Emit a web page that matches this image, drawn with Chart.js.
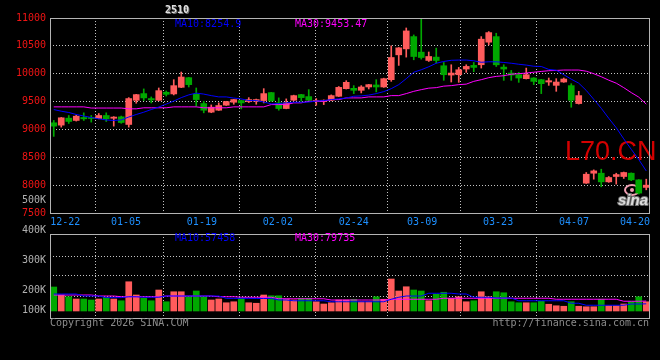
<!DOCTYPE html>
<html>
<head>
<meta charset="utf-8">
<script src="https://cdn.jsdelivr.net/npm/chart.js@4.4.1/dist/chart.umd.min.js"></script>
<style>
  html, body { margin: 0; padding: 0; background: #000; }
  body { width: 660px; height: 360px; position: relative; overflow: hidden; }
  #kChart { position: absolute; left: 0; top: 0; }
  #vChart { position: absolute; left: 0; top: 220px; }
</style>
</head>
<body>
<canvas id="kChart" width="660" height="230"></canvas>
<canvas id="vChart" width="660" height="140"></canvas>
<script>
// --- DATA ---
const dates = [
  '12-18','12-19','12-22','12-23','12-24','12-25','12-26','12-29','12-30','12-31',
  '01-05','01-06','01-07','01-08','01-09','01-12','01-13','01-14','01-15','01-16',
  '01-19','01-20','01-21','01-22','01-23','01-26','01-27','01-28','01-29','01-30',
  '02-02','02-03','02-04','02-05','02-06','02-09','02-10','02-11','02-12','02-13',
  '02-24','02-25','02-26','02-27','03-02','03-03','03-04','03-05','03-06',
  '03-09','03-10','03-11','03-12','03-13','03-16','03-17','03-18','03-19','03-20',
  '03-23','03-24','03-25','03-26','03-27','03-30','03-31','04-01','04-02','04-03',
  '04-07','04-08','04-09','04-10','04-13','04-14','04-15','04-16','04-17','04-20','04-21'
];
const tickIdx = [2, 10, 20, 30, 40, 49, 59, 69, 78];

const opens = [
  9119, 9077, 9202, 9161, 9214, 9207, 9196, 9250, 9200, 9226,
  9089, 9523, 9643, 9554, 9523, 9667, 9637, 9756, 9929, 9631,
  9464, 9310, 9345, 9435, 9488, 9518, 9500, 9506, 9518, 9661,
  9476, 9375, 9524, 9625, 9589, 9500, 9500, 9524, 9595, 9732,
  9738, 9702, 9762, 9798, 9762, 9893, 10339, 10446, 10666, 10387,
  10238, 10298, 10143, 9976, 9982, 10084, 10149, 10161, 10566, 10666,
  10119, 10012, 9982, 9911, 9923, 9893, 9851, 9791, 9851, 9786,
  9464, 8036, 8214, 8214, 8059, 8155, 8155, 8214, 8095, 7959
];
const highs = [
  9161, 9215, 9250, 9255, 9298, 9250, 9286, 9298, 9230, 9240,
  9571, 9630, 9727, 9583, 9744, 9690, 9893, 10030, 9935, 9744,
  9506, 9440, 9476, 9505, 9540, 9525, 9571, 9545, 9732, 9665,
  9566, 9548, 9615, 9630, 9714, 9554, 9530, 9620, 9770, 9875,
  9786, 9786, 9810, 9893, 9920, 10500, 10470, 10821, 10696, 10994,
  10390, 10459, 10202, 10161, 10113, 10161, 10202, 10666, 10756, 10726,
  10161, 10059, 10024, 10101, 9930, 9900, 9923, 9911, 9923, 9821,
  9684, 8227, 8274, 8286, 8155, 8214, 8235, 8220, 8100, 8107
];
const lows = [
  8875, 9041, 9107, 9150, 9161, 9131, 9190, 9143, 9059, 9110,
  9041, 9470, 9518, 9476, 9515, 9600, 9619, 9750, 9762, 9416,
  9298, 9300, 9340, 9430, 9452, 9369, 9482, 9452, 9476, 9505,
  9345, 9370, 9515, 9506, 9515, 9434, 9446, 9515, 9590, 9725,
  9643, 9655, 9726, 9673, 9755, 9863, 10149, 10298, 10250, 10262,
  10220, 10190, 9881, 9851, 9845, 10024, 10036, 10101, 10518, 10130,
  9881, 9881, 9845, 9905, 9804, 9643, 9791, 9684, 9845, 9398,
  9455, 8030, 8107, 7970, 8050, 8018, 8120, 8080, 7840, 7916
];
const closes = [
  9059, 9209, 9143, 9238, 9190, 9196, 9250, 9190, 9222, 9125,
  9554, 9625, 9566, 9530, 9696, 9630, 9786, 9941, 9804, 9536,
  9345, 9399, 9429, 9500, 9536, 9476, 9536, 9536, 9643, 9512,
  9375, 9476, 9607, 9571, 9524, 9518, 9524, 9607, 9755, 9845,
  9702, 9762, 9804, 9762, 9911, 10291, 10464, 10768, 10309, 10291,
  10309, 10238, 9982, 10012, 10071, 10131, 10113, 10620, 10738, 10160,
  10084, 9976, 9923, 9982, 9863, 9821, 9875, 9851, 9905, 9524,
  9607, 8196, 8256, 8059, 8137, 8190, 8227, 8095, 7857, 8000
];
const ma10 = [
  9357, 9327, 9304, 9268, 9241, 9214, 9191, 9170, 9161, 9170,
  9223, 9268, 9309, 9357, 9402, 9455, 9509, 9571, 9620, 9652,
  9634, 9607, 9584, 9584, 9563, 9548, 9518, 9518, 9491, 9459,
  9464, 9477, 9488, 9488, 9491, 9509, 9518, 9536, 9548, 9563,
  9595, 9602, 9616, 9643, 9679, 9732, 9804, 9911, 10027, 10071,
  10125, 10188, 10220, 10241, 10245, 10245, 10232, 10205, 10214, 10214,
  10202, 10188, 10170, 10155, 10134, 10130, 10077, 10063, 9982, 9902,
  9830, 9700, 9540, 9380, 9200, 9030, 8830, 8643, 8460, 8254.9
];
const ma30 = [
  9405, 9405, 9405, 9405, 9405, 9384, 9384, 9384, 9384, 9384,
  9370, 9370, 9388, 9388, 9388, 9388, 9405, 9405, 9405, 9405,
  9388, 9388, 9388, 9388, 9405, 9405, 9405, 9405, 9405, 9446,
  9446, 9446, 9477, 9477, 9505, 9505, 9505, 9536, 9536, 9566,
  9566, 9566, 9584, 9584, 9584, 9607, 9607, 9643, 9684, 9714,
  9741, 9750, 9777, 9786, 9804, 9813, 9863, 9893, 9929, 9952,
  9964, 9991, 10000, 10012, 10027, 10041, 10054, 10059, 10066, 10066,
  10066, 10045, 10000, 9946, 9884, 9830, 9750, 9661, 9580, 9453.47
];
const volumes = [
  192000, 128000, 114000, 96000, 96000, 88000, 96000, 110000, 96000, 82000,
  234000, 128000, 102000, 82000, 168000, 74000, 154000, 154000, 114000, 160000,
  114000, 88000, 96000, 66000, 74000, 102000, 66000, 62000, 128000, 122000,
  122000, 96000, 88000, 102000, 102000, 74000, 56000, 66000, 88000, 88000,
  94000, 74000, 74000, 114000, 94000, 256000, 160000, 194000, 168000, 160000,
  82000, 134000, 150000, 102000, 114000, 74000, 82000, 154000, 114000, 154000,
  146000, 74000, 66000, 66000, 66000, 78000, 54000, 42000, 38000, 74000,
  38000, 34000, 34000, 94000, 42000, 42000, 56000, 74000, 114000, 74000
];
const volMa10 = [
  136000, 136000, 136000, 136000, 120000, 120000, 120000, 107000, 107000, 107000,
  114000, 114000, 110000, 110000, 110000, 120000, 120000, 120000, 120000, 120000,
  120000, 120000, 120000, 101000, 101000, 101000, 101000, 100000, 100000, 100000,
  88000, 88000, 82000, 82000, 82000, 82000, 82000, 74000, 74000, 74000,
  74000, 74000, 74000, 74000, 74000, 94000, 110000, 120000, 120000, 120000,
  142000, 142000, 142000, 142000, 136000, 136000, 110000, 110000, 110000, 104000,
  104000, 104000, 82000, 82000, 82000, 82000, 82000, 82000, 82000, 62000,
  62000, 46000, 46000, 46000, 46000, 46000, 46000, 56000, 56000, 57458
];
const volMa30 = [
  128000, 128000, 128000, 128000, 128000, 128000, 120000, 120000, 120000, 114000,
  114000, 114000, 114000, 114000, 114000, 120000, 120000, 120000, 120000, 120000,
  120000, 120000, 114000, 114000, 114000, 110000, 110000, 110000, 110000, 110000,
  98000, 98000, 98000, 98000, 98000, 98000, 98000, 88000, 88000, 88000,
  88000, 88000, 88000, 88000, 88000, 94000, 94000, 94000, 94000, 94000,
  94000, 94000, 102000, 102000, 102000, 102000, 102000, 102000, 102000, 102000,
  102000, 102000, 102000, 102000, 102000, 102000, 102000, 94000, 94000, 94000,
  94000, 94000, 94000, 94000, 94000, 94000, 78000, 78000, 78000, 79735
];
const volGrid = [120000, 288000, 440000];

// --- STYLE ---
const FONT = "'DejaVu Sans Mono', monospace";
const RED = '#ff5c5c';
const GREEN = '#00a800';
const GRID = '#c4c4c4';
const FRAME = '#b4b4b4';
const candleColors = closes.map((c, i) => (c >= opens[i] ? RED : GREEN));
const pts = arr => arr.map((v, i) => ({ x: i, y: v }));

function xAxis(showLabels) {
    return {
        type: 'linear',
        min: -0.5,
        max: 79.5,
        offset: false,
        afterBuildTicks: s => {
            // grid lines sit on the labelled trading days, last label pulled in from the edge
            s.ticks = tickIdx.map((k, n) => ({ value: n === tickIdx.length - 1 ? 77.5 : k * 80 / 79 - 0.5 }));
        },
        grid: {
            color: c => (c.index === tickIdx.length - 1 ? 'rgba(0,0,0,0)' : GRID),
            drawTicks: false
        },
        border: { display: false, dash: [1, 2] },
        ticks: {
            display: showLabels,
            autoSkip: false,
            maxRotation: 0,
            padding: 3,
            color: '#1e90ff',
            font: { family: FONT, size: 10 },
            callback: (v, n) => dates[tickIdx[n]]
        },
        afterFit: s => { s.height = showLabels ? 17 : 0; }
    };
}

function text(ctx, str, x, y, color, font, align) {
    ctx.font = font || ('10px ' + FONT);
    ctx.fillStyle = color;
    ctx.textAlign = align || 'left';
    ctx.textBaseline = 'middle';
    ctx.fillText(str, x, y);
}

function frame(chart) {
    const a = chart.chartArea;
    const ctx = chart.ctx;
    ctx.save();
    ctx.strokeStyle = FRAME;
    ctx.lineWidth = 1;
    ctx.strokeRect(a.left + 0.5, a.top + 0.5, a.right - a.left - 1, a.bottom - a.top);
    ctx.restore();
}

// --- PRICE CHART ---
const kDecor = {
    id: 'kDecor',
    beforeDatasetsDraw(chart) {
        const ctx = chart.ctx;
        ctx.save();
        ctx.font = "27px 'Liberation Sans', Arial, sans-serif";
        ctx.fillStyle = '#d40000';
        ctx.textAlign = 'left';
        ctx.textBaseline = 'alphabetic';
        ctx.fillText('L70.CN', 565, 159.5);

        // sina logo
        ctx.strokeStyle = '#f2a0b4';
        ctx.lineWidth = 2;
        ctx.beginPath();
        ctx.ellipse(632, 190, 7, 5, 0, 0, Math.PI * 2);
        ctx.stroke();
        ctx.fillStyle = '#f2a0b4';
        ctx.beginPath();
        ctx.arc(632, 190, 2, 0, Math.PI * 2);
        ctx.fill();
        ctx.font = "italic bold 15px 'Liberation Sans', Arial, sans-serif";
        ctx.lineWidth = 2;
        ctx.strokeStyle = '#707070';
        ctx.strokeText('sina', 618, 205);
        ctx.fillStyle = '#dcdcdc';
        ctx.fillText('sina', 618, 205);
        ctx.restore();
    },
    afterDraw(chart) {
        const ctx = chart.ctx;
        frame(chart);
        ctx.save();
        text(ctx, '2510', 166, 11, '#707070', 'bold 10px ' + FONT);
        text(ctx, '2510', 165, 10, '#e0e0e0', 'bold 10px ' + FONT);
        text(ctx, 'MA10:' + ma10[ma10.length - 1], 175, 24, '#0000ff');
        text(ctx, 'MA30:' + ma30[ma30.length - 1], 295, 24, '#ff00ff');
        text(ctx, '500K', 46, 200.5, '#b0b0b0', null, 'right');
        ctx.restore();
    }
};

new Chart(document.getElementById('kChart'), {
    type: 'bar',
    data: {
        datasets: [
            { type: 'line', data: pts(ma10), borderColor: '#0000ff', borderWidth: 1, pointRadius: 0, order: 0 },
            { type: 'line', data: pts(ma30), borderColor: '#ff00ff', borderWidth: 1, pointRadius: 0, order: 0 },
            {
                data: opens.map((o, i) => ({ x: i, y: [o, closes[i]] })),
                backgroundColor: candleColors,
                barThickness: 6,
                minBarLength: 1,
                grouped: false,
                order: 1
            },
            {
                data: lows.map((l, i) => ({ x: i, y: [l, highs[i]] })),
                backgroundColor: candleColors,
                barThickness: 1,
                grouped: false,
                order: 2
            }
        ]
    },
    options: {
        responsive: false,
        animation: false,
        events: [],
        layout: { padding: { top: 18, right: 10, left: 0, bottom: 0 } },
        plugins: { legend: { display: false }, tooltip: { enabled: false } },
        scales: {
            x: xAxis(true),
            y: {
                min: 7500,
                max: 11000,
                ticks: {
                    stepSize: 500,
                    color: '#f01414',
                    font: { family: FONT, size: 10 },
                    padding: 4,
                    callback: v => String(v)
                },
                grid: { color: GRID, drawTicks: false },
                border: { display: false, dash: [1, 2] },
                afterFit: s => { s.width = 50; }
            }
        }
    },
    plugins: [kDecor]
});

// --- VOLUME CHART ---
const vDecor = {
    id: 'vDecor',
    afterDraw(chart) {
        const ctx = chart.ctx;
        frame(chart);
        ctx.save();
        const gray = '#b0b0b0';
        text(ctx, '400K', 46, 10.5, gray, null, 'right');
        text(ctx, '300K', 46, 40.5, gray, null, 'right');
        text(ctx, '200K', 46, 70.5, gray, null, 'right');
        text(ctx, '100K', 46, 90.5, gray, null, 'right');
        text(ctx, 'MA10:' + volMa10[volMa10.length - 1], 175, 18.5, '#0000ff');
        text(ctx, 'MA30:' + volMa30[volMa30.length - 1], 295, 18.5, '#ff00ff');
        text(ctx, 'Copyright 2026 SINA.COM', 50, 103.5, '#8c8c8c');
        text(ctx, 'http://finance.sina.com.cn', 649, 103.5, '#8c8c8c', null, 'right');
        ctx.restore();
    }
};

new Chart(document.getElementById('vChart'), {
    type: 'bar',
    data: {
        datasets: [
            { type: 'line', data: pts(volMa10), borderColor: '#0000ff', borderWidth: 1, pointRadius: 0, order: 0 },
            { type: 'line', data: pts(volMa30), borderColor: '#ff00ff', borderWidth: 1, pointRadius: 0, order: 0 },
            {
                data: pts(volumes),
                backgroundColor: candleColors,
                barThickness: 6,
                grouped: false,
                order: 1
            }
        ]
    },
    options: {
        responsive: false,
        animation: false,
        events: [],
        layout: { padding: { top: 14, right: 10, left: 0, bottom: 42 } },
        plugins: { legend: { display: false }, tooltip: { enabled: false } },
        scales: {
            x: xAxis(false),
            y: {
                min: -56000,
                max: 616000,
                afterBuildTicks: s => { s.ticks = volGrid.map(v => ({ value: v })); },
                ticks: { display: false },
                grid: { color: GRID, drawTicks: false },
                border: { display: false, dash: [1, 2] },
                afterFit: s => { s.width = 50; }
            }
        }
    },
    plugins: [vDecor]
});
</script>
</body>
</html>
